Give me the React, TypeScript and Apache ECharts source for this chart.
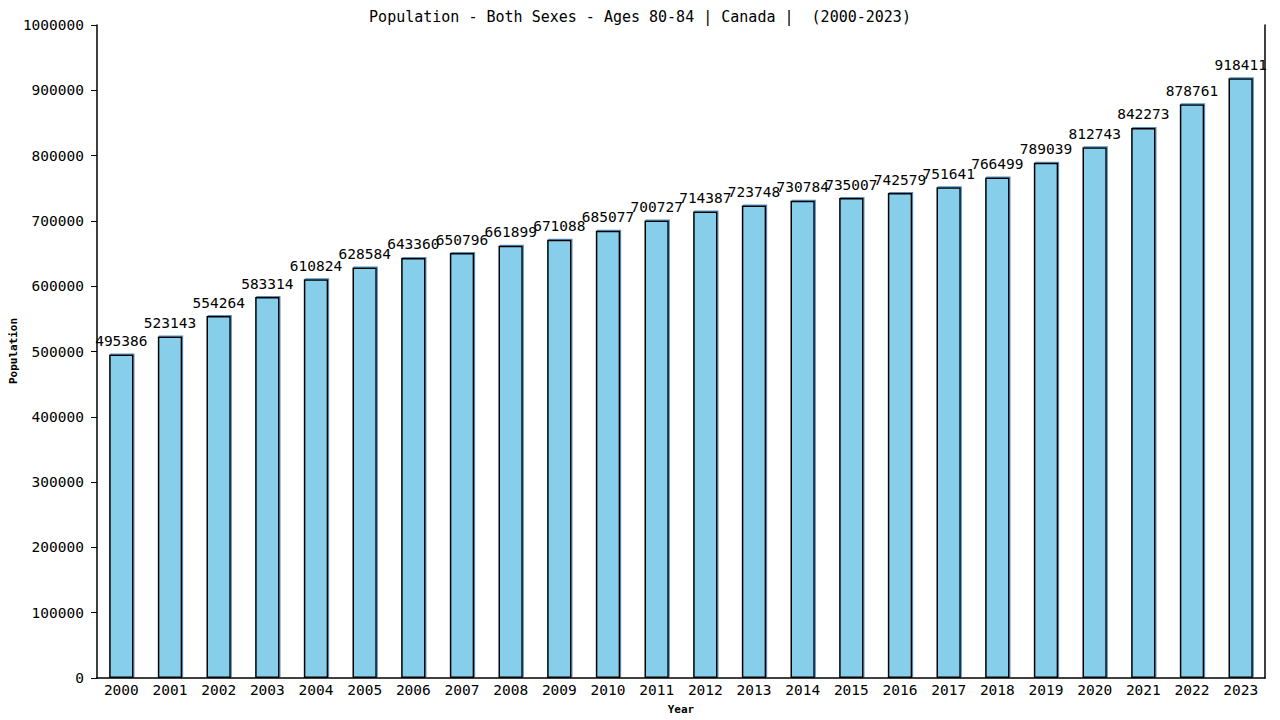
import React, { useEffect, useRef } from "react";
import * as echarts from "echarts";

const years = ["2000","2001","2002","2003","2004","2005","2006","2007","2008","2009","2010","2011","2012","2013","2014","2015","2016","2017","2018","2019","2020","2021","2022","2023"];
const population = [495386,523143,554264,583314,610824,628584,643360,650796,661899,671088,685077,700727,714387,723748,730784,735007,742579,751641,766499,789039,812743,842273,878761,918411];
const titleText = "Population - Both Sexes - Ages 80-84 | Canada |  (2000-2023)";
const yAxisName = "Population";

const FONT = "DejaVu Sans Mono";

export default function App() {
  const ref = useRef<HTMLDivElement>(null);
  useEffect(() => {
    if (!ref.current) return;
    const chart = echarts.init(ref.current, undefined, { renderer: "svg" });
    chart.setOption({
      animation: false,
      backgroundColor: "#ffffff",
      textStyle: { fontFamily: FONT, color: "#000" },
      title: {
        text: titleText,
        left: "center",
        top: 4,
        textStyle: { fontFamily: FONT, fontSize: 15, fontWeight: "normal", color: "#000" },
      },
      graphic: [
        {
          type: "text",
          x: 13,
          y: 351,
          rotation: Math.PI / 2,
          style: {
            text: yAxisName,
            align: "center",
            verticalAlign: "middle",
            fontFamily: FONT,
            fontSize: 11,
            fontWeight: "bold",
            fill: "#000",
          },
        },
      ],
      grid: { left: 97, right: 15, top: 25, bottom: 42, containLabel: false, outerBoundsMode: "none" },
      xAxis: {
        type: "category",
        data: years,
        name: "Year",
        nameLocation: "middle",
        nameGap: 26,
        nameTextStyle: { fontFamily: FONT, fontSize: 11, fontWeight: "bold", color: "#000" },
        axisLine: { show: true, lineStyle: { color: "#000", width: 1.5 } },
        axisTick: { show: false },
        axisLabel: { fontFamily: FONT, fontSize: 14.5, color: "#000", margin: 4 },
        splitLine: { show: false },
      },
      yAxis: [
        {
          type: "value",
          min: 0,
          max: 1000000,
          interval: 100000,
          axisLine: { show: true, lineStyle: { color: "#000", width: 1.5 } },
          axisTick: { show: true, length: 6, lineStyle: { color: "#000", width: 1 } },
          axisLabel: {
            fontFamily: FONT,
            fontSize: 14.5,
            color: "#000",
            margin: 13,
            formatter: (v: number) => String(v),
          },
          splitLine: { show: false },
        },
        {
          type: "value",
          min: 0,
          max: 1000000,
          interval: 100000,
          position: "right",
          axisLine: { show: true, lineStyle: { color: "#000", width: 1.5 } },
          axisTick: { show: false },
          axisLabel: { show: false },
          splitLine: { show: false },
        },
      ],
      series: [
        {
          type: "bar",
          data: population,
          barWidth: "50%",
          itemStyle: {
            color: "#87CEEB",
            borderColor: "#000",
            borderWidth: 1.5,
            shadowColor: "rgba(70,130,180,0.9)",
            shadowOffsetX: 1,
            shadowOffsetY: -1,
            shadowBlur: 0,
          },
          label: {
            show: true,
            position: "top",
            distance: 6,
            fontFamily: FONT,
            fontSize: 14.5,
            color: "#000",
          },
        },
      ],
    });
    return () => chart.dispose();
  }, []);
  return (
    <div
      ref={ref}
      style={{ position: "fixed", left: 0, top: 0, width: 1280, height: 720, background: "#fff" }}
    />
  );
}
